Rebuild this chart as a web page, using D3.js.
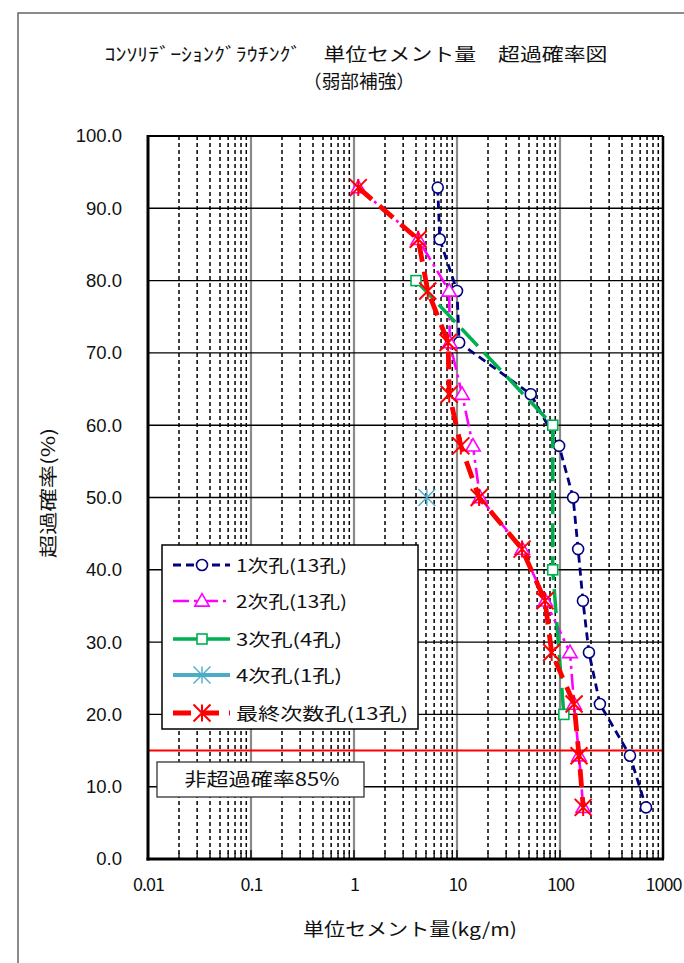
<!DOCTYPE html>
<html><head><meta charset="utf-8">
<script src="https://cdn.jsdelivr.net/npm/d3@7"></script>
<style>body{margin:0;background:#fff}svg{display:block}</style>
</head><body>
<svg id="c" width="684" height="963"></svg>
<script>
// ---- data ----
const probs13 = [92.86, 85.71, 78.57, 71.43, 64.29, 57.14, 50.0, 42.86, 35.71, 28.57, 21.43, 14.29, 7.14];
const probs4 = [80, 60, 40, 20];
const probs1 = [50];
const s1Values = [6.5, 6.8, 10.0, 10.5, 52, 98, 134, 150, 167, 191, 244, 478, 684];
const s2Values = [1.1, 4.2, 8.4, 8.5, 11.2, 14.3, 16.7, 43, 72, 125, 137, 153, 168];
const s3Values = [4.0, 85, 85, 109];
const s4Values = [5.1];
const s5Values = [1.1, 4.2, 5.2, 8.2, 8.4, 10.9, 16.4, 42.8, 71.5, 83, 137, 153, 168];
const seriesNames = ["1次孔(13孔)", "2次孔(13孔)", "3次孔(4孔)", "4次孔(1孔)", "最終次数孔(13孔)"];
const yTicks = [0, 10, 20, 30, 40, 50, 60, 70, 80, 90, 100];
const xTickLabels = ["0.01", "0.1", "1", "10", "100", "1000"];
const xTickValues = [0.01, 0.1, 1, 10, 100, 1000];
const thresholdProb = 15;
const titleLine1 = "ｺﾝｿﾘﾃﾞｰｼｮﾝｸﾞﾗｳﾁﾝｸﾞ　単位セメント量　超過確率図";
const titleLine2 = "（弱部補強）";
const xTitle = "単位セメント量(kg/m)";
const yTitle = "超過確率(%)";
const noteText = "非超過確率85%";

// ---- layout ----
const svg = d3.select("#c");
const L = 148, R = 663, T = 136, B = 859;
const x = d3.scaleLog().domain([0.01, 1000]).range([L, R]);
const y = d3.scaleLinear().domain([0, 100]).range([B, T]);
const JP = "'Noto Sans CJK JP','Noto Sans',sans-serif";
const NUM = "'Liberation Sans',Arial,sans-serif";

// outer chart border
svg.append("rect").attr("x", 18).attr("y", 13).attr("width", 720).attr("height", 1000)
  .attr("fill", "none").attr("stroke", "#666").attr("stroke-width", 1.5);

// title
svg.append("text").attr("x", 356).attr("y", 61).attr("text-anchor", "middle")
  .attr("font-family", JP).attr("font-size", 18.5).attr("fill", "#111")
  .attr("textLength", 503).attr("lengthAdjust", "spacingAndGlyphs").text(titleLine1);
svg.append("text").attr("x", 359).attr("y", 88).attr("text-anchor", "middle")
  .attr("font-family", JP).attr("font-size", 18.5).attr("fill", "#111")
  .attr("textLength", 112).attr("lengthAdjust", "spacingAndGlyphs")
  .text(titleLine2);

// vertical grid
const g = svg.append("g");
const decades = [0.01, 0.1, 1, 10, 100];
decades.forEach(d => {
  for (let k = 2; k <= 9; k++) {
    const xv = x(k * d);
    g.append("line").attr("x1", xv).attr("x2", xv).attr("y1", T).attr("y2", B)
      .attr("stroke", "#000").attr("stroke-width", 1.5).attr("stroke-dasharray", "4,3");
  }
});
[0.1, 1, 10, 100].forEach(d => {
  g.append("line").attr("x1", x(d)).attr("x2", x(d)).attr("y1", T).attr("y2", B)
    .attr("stroke", "#8a8a8a").attr("stroke-width", 2.2);
});
// horizontal grid
yTicks.filter(v => v > 0 && v < 100).forEach(v => {
  g.append("line").attr("x1", L).attr("x2", R).attr("y1", y(v)).attr("y2", y(v))
    .attr("stroke", "#000").attr("stroke-width", 1.4);
});

// threshold line
svg.append("line").attr("x1", L).attr("x2", R).attr("y1", y(thresholdProb)).attr("y2", y(thresholdProb))
  .attr("stroke", "#ff0000").attr("stroke-width", 2);

// axes via d3
const yAxis = d3.axisLeft(y).tickValues(yTicks).tickFormat(d3.format(".1f")).tickSize(0).tickPadding(26);
const ya = svg.append("g").attr("transform", `translate(${L},0)`).call(yAxis);
ya.select(".domain").remove();
ya.selectAll("text").attr("font-family", NUM).attr("font-size", 18.5).attr("fill", "#111");

const xAxis = d3.axisBottom(x).tickValues(xTickValues).tickFormat((d, i) => xTickLabels[i]).tickSize(0).tickPadding(19);
const xa = svg.append("g").attr("transform", `translate(0,${B})`).call(xAxis);
xa.select(".domain").remove();
xa.selectAll("text").attr("font-family", JP).attr("font-size", 18).attr("fill", "#111")
  .style("letter-spacing", "-1px");

// bottom inward minor ticks
decades.forEach(d => {
  for (let k = 1; k <= 9; k++) {
    const xv = x(k * d);
    svg.append("line").attr("x1", xv).attr("x2", xv).attr("y1", B).attr("y2", B - (k === 1 ? 9 : 6))
      .attr("stroke", "#000").attr("stroke-width", 1.3);
  }
});

// frame
svg.append("line").attr("x1", L).attr("x2", R).attr("y1", T).attr("y2", T).attr("stroke", "#000").attr("stroke-width", 2);
svg.append("line").attr("x1", R).attr("x2", R).attr("y1", T).attr("y2", B).attr("stroke", "#000").attr("stroke-width", 2.5);
svg.append("line").attr("x1", L).attr("x2", L).attr("y1", T - 1).attr("y2", B + 1.5).attr("stroke", "#000").attr("stroke-width", 3);
svg.append("line").attr("x1", L - 1.5).attr("x2", R + 1).attr("y1", B).attr("y2", B).attr("stroke", "#000").attr("stroke-width", 3);

// axis titles
svg.append("text").attr("x", 410).attr("y", 936).attr("text-anchor", "middle")
  .attr("font-family", JP).attr("font-size", 18).attr("fill", "#111")
  .attr("textLength", 214).attr("lengthAdjust", "spacingAndGlyphs").text(xTitle);
svg.append("text").attr("transform", "translate(55,493) rotate(-90)").attr("text-anchor", "middle")
  .attr("font-family", JP).attr("font-size", 18).attr("fill", "#111")
  .attr("textLength", 130).attr("lengthAdjust", "spacingAndGlyphs").text(yTitle);

// ---- series ----
function marker(sel, type, color, cx, cy, sw) {
  if (type === "circle") {
    sel.append("circle").attr("cx", cx).attr("cy", cy).attr("r", 5.5)
      .attr("fill", "#fff").attr("stroke", color).attr("stroke-width", 1.6);
  } else if (type === "triangle") {
    sel.append("path").attr("d", d3.symbol(d3.symbolTriangle, 90)())
      .attr("transform", `translate(${cx},${cy + 1})`)
      .attr("fill", "#fff").attr("stroke", color).attr("stroke-width", 1.6);
  } else if (type === "square") {
    sel.append("rect").attr("x", cx - 5).attr("y", cy - 5).attr("width", 10).attr("height", 10)
      .attr("fill", "#fff").attr("stroke", color).attr("stroke-width", 1.6);
  } else if (type === "star") {
    const s = 8.5;
    sel.append("path").attr("d", `M${cx - s},${cy - s}L${cx + s},${cy + s}M${cx - s},${cy + s}L${cx + s},${cy - s}M${cx},${cy - s}L${cx},${cy + s}`)
      .attr("fill", "none").attr("stroke", color).attr("stroke-width", sw || 1.8);
  }
}
const series = [
  { vals: s1Values, probs: probs13, color: "#000080", width: 2.8, dash: "8,5", marker: "circle" },
  { vals: s2Values, probs: probs13, color: "#ff00ff", width: 2.6, dash: "16,5,3,5", marker: "triangle" },
  { vals: s3Values, probs: probs4, color: "#00b050", width: 3.5, dash: "24,9", marker: "square" },
  { vals: s4Values, probs: probs1, color: "#4bacc6", width: 4, dash: null, marker: "star", msw: 1.4 },
  { vals: s5Values, probs: probs13, color: "#ff0000", width: 4.8, dash: "18,10", marker: "star", msw: 2 }
];
const line = d3.line().x(d => x(d[0])).y(d => y(d[1]));
series.forEach(s => {
  const pts = s.vals.map((v, i) => [v, s.probs[i]]);
  const sg = svg.append("g");
  if (pts.length > 1) {
    sg.append("path").attr("d", line(pts)).attr("fill", "none").attr("stroke", s.color)
      .attr("stroke-width", s.width).attr("stroke-dasharray", s.dash);
  }
  pts.forEach(p => marker(sg, s.marker, s.color, x(p[0]), y(p[1]), s.msw));
});

// ---- legend ----
const lg = svg.append("g");
lg.append("rect").attr("x", 162).attr("y", 545).attr("width", 256).attr("height", 184)
  .attr("fill", "#fff").attr("stroke", "#000").attr("stroke-width", 1.5);
const legendY = [565, 601, 639, 675, 713];
const legendTextLen = [111, 111, 106, 106, 172];
series.forEach((s, i) => {
  const ly = legendY[i];
  lg.append("line").attr("x1", 173).attr("x2", 230).attr("y1", ly).attr("y2", ly)
    .attr("stroke", s.color).attr("stroke-width", s.width).attr("stroke-dasharray", s.dash);
  marker(lg, s.marker, s.color, 202, ly, s.msw);
  lg.append("text").attr("x", 236).attr("y", ly + 6.5).attr("font-family", JP).attr("font-size", 17)
    .attr("fill", "#111").attr("textLength", legendTextLen[i]).attr("lengthAdjust", "spacingAndGlyphs")
    .text(seriesNames[i]);
});

// ---- note box ----
svg.append("rect").attr("x", 157).attr("y", 762).attr("width", 207).attr("height", 35)
  .attr("fill", "#fff").attr("stroke", "#333").attr("stroke-width", 1.3);
svg.append("text").attr("x", 262).attr("y", 786).attr("text-anchor", "middle")
  .attr("font-family", JP).attr("font-size", 18).attr("fill", "#111")
  .attr("textLength", 155).attr("lengthAdjust", "spacingAndGlyphs").text(noteText);
</script>
</body></html>
